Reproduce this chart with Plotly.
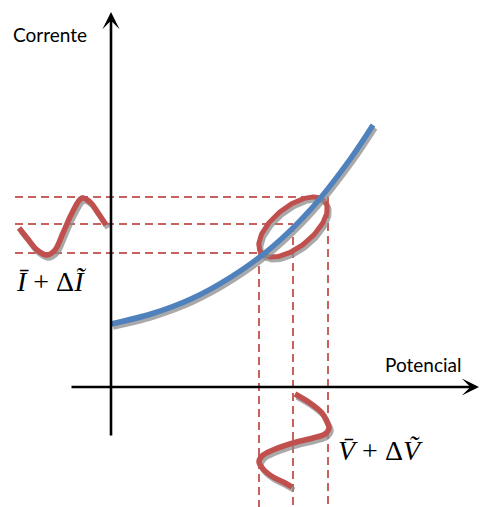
import numpy as np
import plotly.graph_objects as go

# I-V characteristic (potential, current), origin at the axes crossing
curve_v = [0, 40, 80, 120, 160, 200, 240, 262]
curve_i = [63, 73, 88, 110, 139, 178, 229, 262]

# operating-point levels: lower, mean, upper
levels_v = [148, 182, 217]
levels_i = [134, 163, 190]

# current ripple drawn beside the vertical axis
ripple_i_x = [-92, -84, -74, -64, -56, -48, -39, -29, -21, -13, -5]
ripple_i_y = [159, 149, 137, 132, 137, 154, 174, 189, 185, 174, 162]

# voltage ripple drawn below the horizontal axis
ripple_v_x = [184, 199, 211, 216, 218, 214, 202, 182, 162, 151, 148, 152, 162, 174, 181]
ripple_v_y = [-7, -16, -26, -35, -41, -47, -51, -56, -63, -69, -75, -82, -90, -96, -100]

# small-signal ellipse around the operating point
ellipse_center = (182, 160)
ellipse_axes = (41, 20)
ellipse_angle = 39  # degrees

RED = "#C0504D"
BLUE = "#4F81BD"
SHADOW = "rgba(140,140,140,0.75)"
DX, DY = 2, -3  # shadow offset

fig = go.Figure()

# dashed guides
dash_style = dict(color="rgba(192,80,77,0.9)", width=2, dash="8px,5px")
for v, i in zip(levels_v, levels_i):
    fig.add_trace(go.Scatter(x=[-96, v], y=[i, i], mode="lines", line=dash_style))
    fig.add_trace(go.Scatter(x=[v, v], y=[i, -122], mode="lines", line=dash_style))


def with_shadow(x, y, color, width, shape="spline", smoothing=1.0):
    x = np.asarray(x, float)
    y = np.asarray(y, float)
    fig.add_trace(go.Scatter(x=x + DX, y=y + DY, mode="lines",
                             line=dict(color=SHADOW, width=width, shape=shape,
                                       smoothing=smoothing)))
    fig.add_trace(go.Scatter(x=x, y=y, mode="lines",
                             line=dict(color=color, width=width, shape=shape,
                                       smoothing=smoothing)))


# ellipse outline
t = np.linspace(0, 2 * np.pi, 200)
a, b = ellipse_axes
th = np.radians(ellipse_angle)
ex = ellipse_center[0] + a * np.cos(t) * np.cos(th) - b * np.sin(t) * np.sin(th)
ey = ellipse_center[1] + a * np.cos(t) * np.sin(th) + b * np.sin(t) * np.cos(th)
with_shadow(ex, ey, RED, 5, shape="linear")

# characteristic curve
with_shadow(curve_v, curve_i, BLUE, 5.5, smoothing=0.9)

# ripples
with_shadow(ripple_i_x, ripple_i_y, RED, 5.5)
with_shadow(ripple_v_x, ripple_v_y, RED, 5.5)

# axes with arrowheads
arrow = dict(showarrow=True, text="", xref="x", yref="y", axref="x", ayref="y",
             arrowhead=3, arrowsize=1.1, arrowwidth=2.6, arrowcolor="black")
fig.add_annotation(x=0, y=375, ax=0, ay=-50, **arrow)
fig.add_annotation(x=368, y=0, ax=-41, ay=0, **arrow)

label_font = dict(family="Lato, Open Sans, sans-serif", size=19, color="black")
fig.add_annotation(x=-61, y=353, text="Corrente", showarrow=False, font=label_font)
fig.add_annotation(x=312, y=23, text="Potencial", showarrow=False, font=label_font)

math_font = dict(family="Liberation Serif, DejaVu Serif, serif", size=28, color="black")
fig.add_annotation(x=-60, y=106, text="<i>\u012a</i> + \u0394<i>\u0128</i>",
                   showarrow=False, font=math_font)
fig.add_annotation(x=269, y=-63, text="<i>V\u0304</i> + \u0394<i>\u1e7c</i>",
                   showarrow=False, font=math_font)

fig.update_layout(
    width=480, height=507,
    margin=dict(l=0, r=0, t=0, b=0),
    paper_bgcolor="white", plot_bgcolor="white",
    showlegend=False,
    xaxis=dict(range=[-111, 369], visible=False, fixedrange=True),
    yaxis=dict(range=[-120, 387], visible=False, fixedrange=True),
)

fig.write_html("out.html")
